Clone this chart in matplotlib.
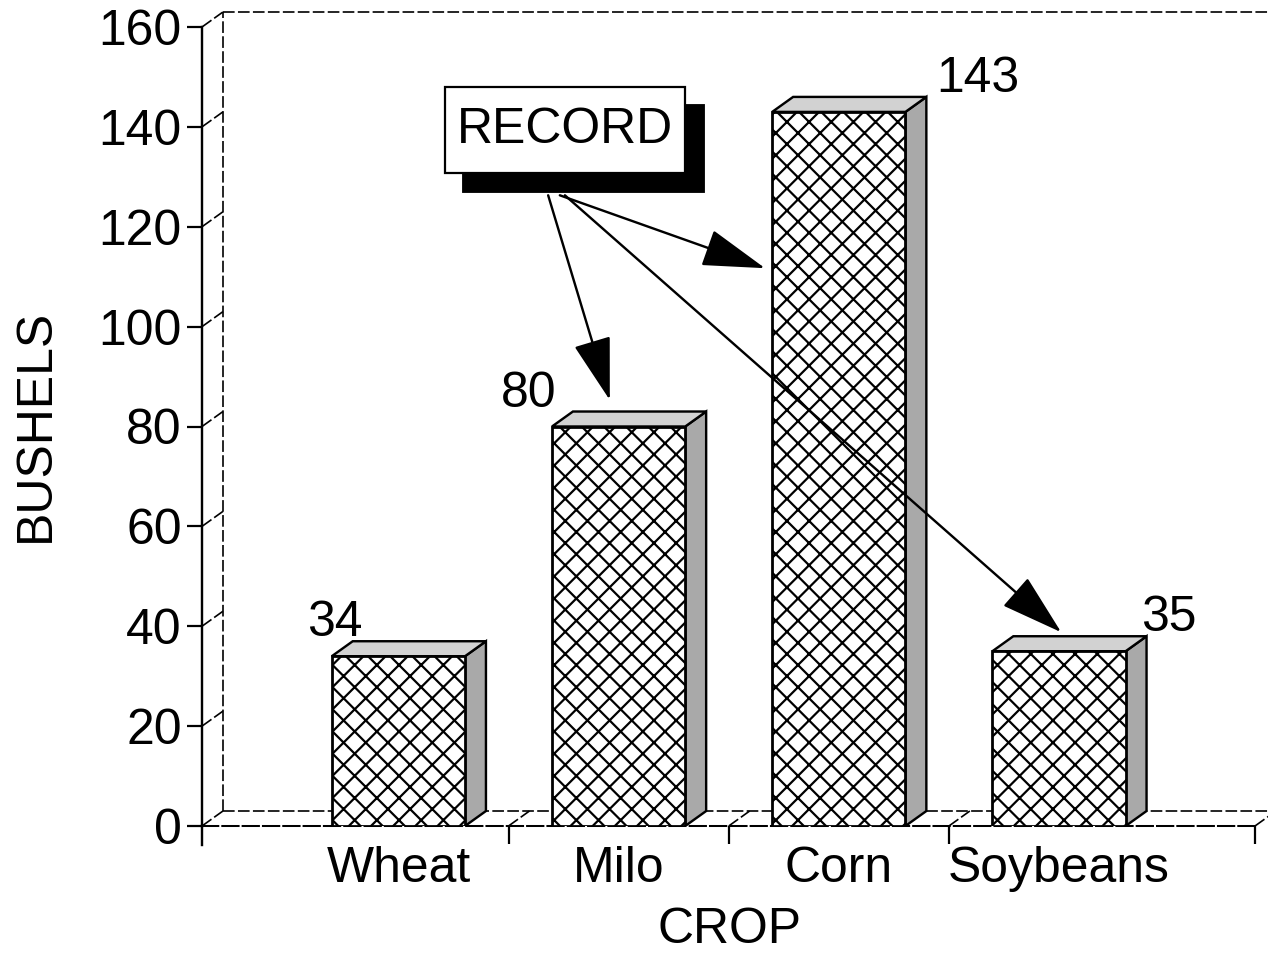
import matplotlib.pyplot as plt
from matplotlib.patches import Rectangle, Polygon

# data
crops = ['Wheat', 'Milo', 'Corn', 'Soybeans']
bushels = [34, 80, 143, 35]
yticks = [0, 20, 40, 60, 80, 100, 120, 140, 160]
record_crops = ['Milo', 'Corn', 'Soybeans']

plt.rcParams['font.family'] = ['Liberation Sans', 'DejaVu Sans']
plt.rcParams['hatch.linewidth'] = 1.2

DPI = 133
fig = plt.figure(figsize=(1268 / DPI, 956 / DPI), dpi=DPI)
ax = fig.add_axes([202 / 1268, 130 / 956, 1053 / 1268, 799 / 956])
xmin, xmax = -0.892, 3.89
ax.set_xlim(xmin, xmax)
ax.set_ylim(0, 160)

# pseudo 3d depth and bar width
dx, dy = 0.095, 3.0
w = 0.605
wall = dict(color='black', lw=0.9, ls=(0, (7, 2)), clip_on=False, zorder=1)

# back wall and floor
ax.plot([xmin + dx, xmin + dx], [dy, 160 + dy], **wall)
ax.plot([xmin + dx, xmax + 0.2], [160 + dy, 160 + dy], **wall)
ax.plot([xmin + dx, xmax + 0.2], [dy, dy], **wall)
for t in yticks:
    ax.plot([xmin, xmin + dx], [t, t + dy], **wall)
for s in [0.5, 1.5, 2.5, xmax]:
    ax.plot([s, s + dx], [0, dy], **wall)

# bars
for i, v in enumerate(bushels):
    x0 = i - w / 2
    ax.add_patch(Polygon([(x0 + w, 0), (x0 + w + dx, dy), (x0 + w + dx, v + dy), (x0 + w, v)],
                         closed=True, fc='#a9a9a9', ec='black', lw=1.3, zorder=3))
    ax.add_patch(Polygon([(x0, v), (x0 + dx, v + dy), (x0 + w + dx, v + dy), (x0 + w, v)],
                         closed=True, fc='#d2d2d2', ec='black', lw=1.3, zorder=3))
    ax.add_patch(Rectangle((x0, 0), w, v, fc='white', ec='black', lw=1.5, hatch='xx', zorder=4))

# value labels
label_dx = [-0.29, -0.41, 0.63, 0.50]
for i, v in enumerate(bushels):
    ax.text(i + label_dx[i], v + 4, str(v), ha='center', va='baseline', fontsize=27, zorder=6)

# axes
for side in ['top', 'right']:
    ax.spines[side].set_visible(False)
ax.spines['left'].set_linewidth(1.3)
ax.spines['bottom'].set_linewidth(1.1)
ax.spines['bottom'].set_linestyle((0, (8, 2)))
ax.set_yticks(yticks)
ax.tick_params(axis='y', direction='out', length=8, width=1.2, labelsize=27, pad=3)
ax.set_xticks(range(len(crops)))
ax.set_xticklabels(crops)
ax.set_xticks([0.5, 1.5, 2.5, xmax], minor=True)
ax.tick_params(axis='x', which='major', length=0, labelsize=27, pad=11)
ax.tick_params(axis='x', which='minor', direction='out', length=10, width=1.2)
ax.plot([xmin, xmin], [0, -3.8], color='black', lw=1.3, clip_on=False)

fig.text(730 / 1268, 1 - 930 / 956, 'CROP', ha='center', va='center', fontsize=27)
fig.text(36 / 1268, 1 - 425 / 956, 'BUSHELS', ha='center', va='center', rotation=90, fontsize=27)

# RECORD callout
ax.add_patch(Rectangle((0.293, 127.0), 1.094, 17.4, fc='black', ec='black', clip_on=False, zorder=7))
ax.add_patch(Rectangle((0.211, 130.8), 1.09, 17.2, fc='white', ec='black', lw=1.2, clip_on=False, zorder=8))
ax.text(0.756, 139.4, 'RECORD', ha='center', va='center', fontsize=27, zorder=9)

starts = [(0.68, 126.3), (0.733, 126.3), (0.756, 126.3)]
tips = [(0.96, 85.3), (1.665, 111.7), (3.01, 38.8)]
for (sx, sy), (tx, ty) in zip(starts, tips):
    ax.annotate('', xy=(tx, ty), xytext=(sx, sy), zorder=6,
                arrowprops=dict(arrowstyle='-|>,head_length=1.5,head_width=0.45', mutation_scale=20,
                                fc='black', ec='black', lw=1.3, shrinkA=0, shrinkB=0))

fig.savefig('out.png', dpi=DPI)
